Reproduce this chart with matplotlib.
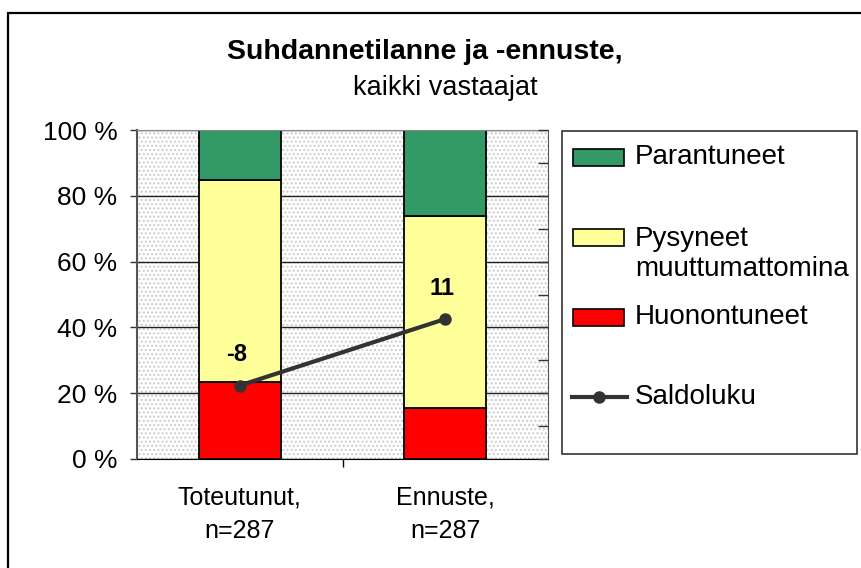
import numpy as np
import matplotlib
matplotlib.use("Agg")
import matplotlib.pyplot as plt
from matplotlib.patches import Rectangle
from matplotlib.lines import Line2D

plt.rcParams['font.family'] = ['Liberation Sans', 'DejaVu Sans']

# Data
categories = ["Toteutunut,\nn=287", "Ennuste,\nn=287"]
huonontuneet = [23.4, 15.5]
pysyneet = [61.4, 58.5]
parantuneet = [15.2, 26.0]
saldo = [-8, 11]
series_names = ["Parantuneet", "Pysyneet\nmuuttumattomina", "Huonontuneet", "Saldoluku"]
colors = ["#339966", "#FFFF99", "#FF0000"]
line_color = "#333333"

W, H = 861, 568
fig = plt.figure(figsize=(W / 100, H / 100), dpi=100)

def fx(px): return px / W
def fy(py): return 1 - py / H

# outer chart border (cropped at right/bottom)
fig.add_artist(Rectangle((fx(8), fy(600)), fx(900 - 8), (600 - 13) / H,
                         transform=fig.transFigure, fill=False,
                         edgecolor="black", lw=1.6))

ax = fig.add_axes([fx(137), fy(459), fx(548 - 137), (459 - 130) / H])
x = np.arange(len(categories))
w = 0.40
plt.rcParams['hatch.linewidth'] = 0.7
ax.patch.set_facecolor("white")
ax.patch.set_hatch("....")
ax.patch.set_edgecolor("#cccccc")

ax.bar(x, huonontuneet, w, color=colors[2], edgecolor="black", lw=1.3, zorder=3)
ax.bar(x, pysyneet, w, bottom=huonontuneet, color=colors[1],
       edgecolor="black", lw=1.3, zorder=3)
bottom3 = np.array(huonontuneet) + np.array(pysyneet)
ax.bar(x, parantuneet, w, bottom=bottom3, color=colors[0],
       edgecolor="black", lw=1.3, zorder=3)

ax.set_xlim(-0.5, 1.5)
ax.set_ylim(0, 100)
ax.set_yticks(np.arange(0, 101, 20))
ax.set_yticklabels([f"{v} %" for v in range(0, 101, 20)], fontsize=19)
ax.yaxis.grid(True, color="#222222", lw=1.0, zorder=1)
ax.set_axisbelow(True)
ax.tick_params(axis="y", direction="out", length=5, width=1, pad=9, colors="#333333",
               labelcolor="black")
ax.set_xticks([0.5])
ax.set_xticklabels([""])
ax.tick_params(axis="x", direction="out", length=6, width=1)
for i, c in enumerate(categories):
    ax.text(x[i], -8, c, ha="center", va="top", fontsize=18,
            linespacing=1.5, clip_on=False)

ax.spines["left"].set_color("#555555")
ax.spines["left"].set_linewidth(1.5)
ax.spines["bottom"].set_color("black")
ax.spines["top"].set_color("#888888")
ax.spines["right"].set_color("#555555")
for s in ax.spines.values():
    s.set_zorder(4)

# Saldo on secondary axis
ax2 = ax.twinx()
lo, hi = -29, 65
ax2.set_ylim(lo, hi)
ax2.set_yticks(np.linspace(lo, hi, 11))
ax2.set_yticklabels([])
ax2.tick_params(axis="y", direction="in", length=7, width=1, colors="#333333")
for s in ax2.spines.values():
    s.set_visible(False)
ax2.plot(x, saldo, color=line_color, lw=3, marker="o", ms=8, zorder=5)
for xi, v in zip(x, saldo):
    ax2.annotate(f"{v}", (xi, v), xytext=(-2, 22), textcoords="offset points",
                 ha="center", va="center", fontsize=17, fontweight="bold")

# Titles
fig.text(fx(425), fy(59), "Suhdannetilanne ja -ennuste,", ha="center", va="baseline",
         fontsize=20.5, fontweight="bold")
fig.text(fx(445), fy(95), "kaikki vastaajat", ha="center", va="baseline", fontsize=19.5)

# Legend (drawn manually to match layout)
fig.add_artist(Rectangle((fx(562), fy(454)), fx(857 - 562), (454 - 131) / H,
                         transform=fig.transFigure, facecolor="white",
                         edgecolor="#333333", lw=1.2))
patch_rows = [157, 237, 317]
for yy, col in zip(patch_rows, colors):
    fig.add_artist(Rectangle((fx(573), fy(yy + 8.5)), fx(51), 17 / H,
                             transform=fig.transFigure, facecolor=col,
                             edgecolor="black", lw=1.2))
fig.add_artist(Line2D([fx(572), fx(627)], [fy(397), fy(397)], transform=fig.transFigure,
                      color=line_color, lw=3))
fig.add_artist(Line2D([fx(599)], [fy(397)], transform=fig.transFigure,
                      color=line_color, marker="o", ms=8))
text_rows = [157, 254, 317, 397]
for yy, name in zip(text_rows, series_names):
    fig.text(fx(635), fy(yy), name, ha="left", va="center", fontsize=20,
             linespacing=1.2)

fig.savefig("out.png", dpi=100)
